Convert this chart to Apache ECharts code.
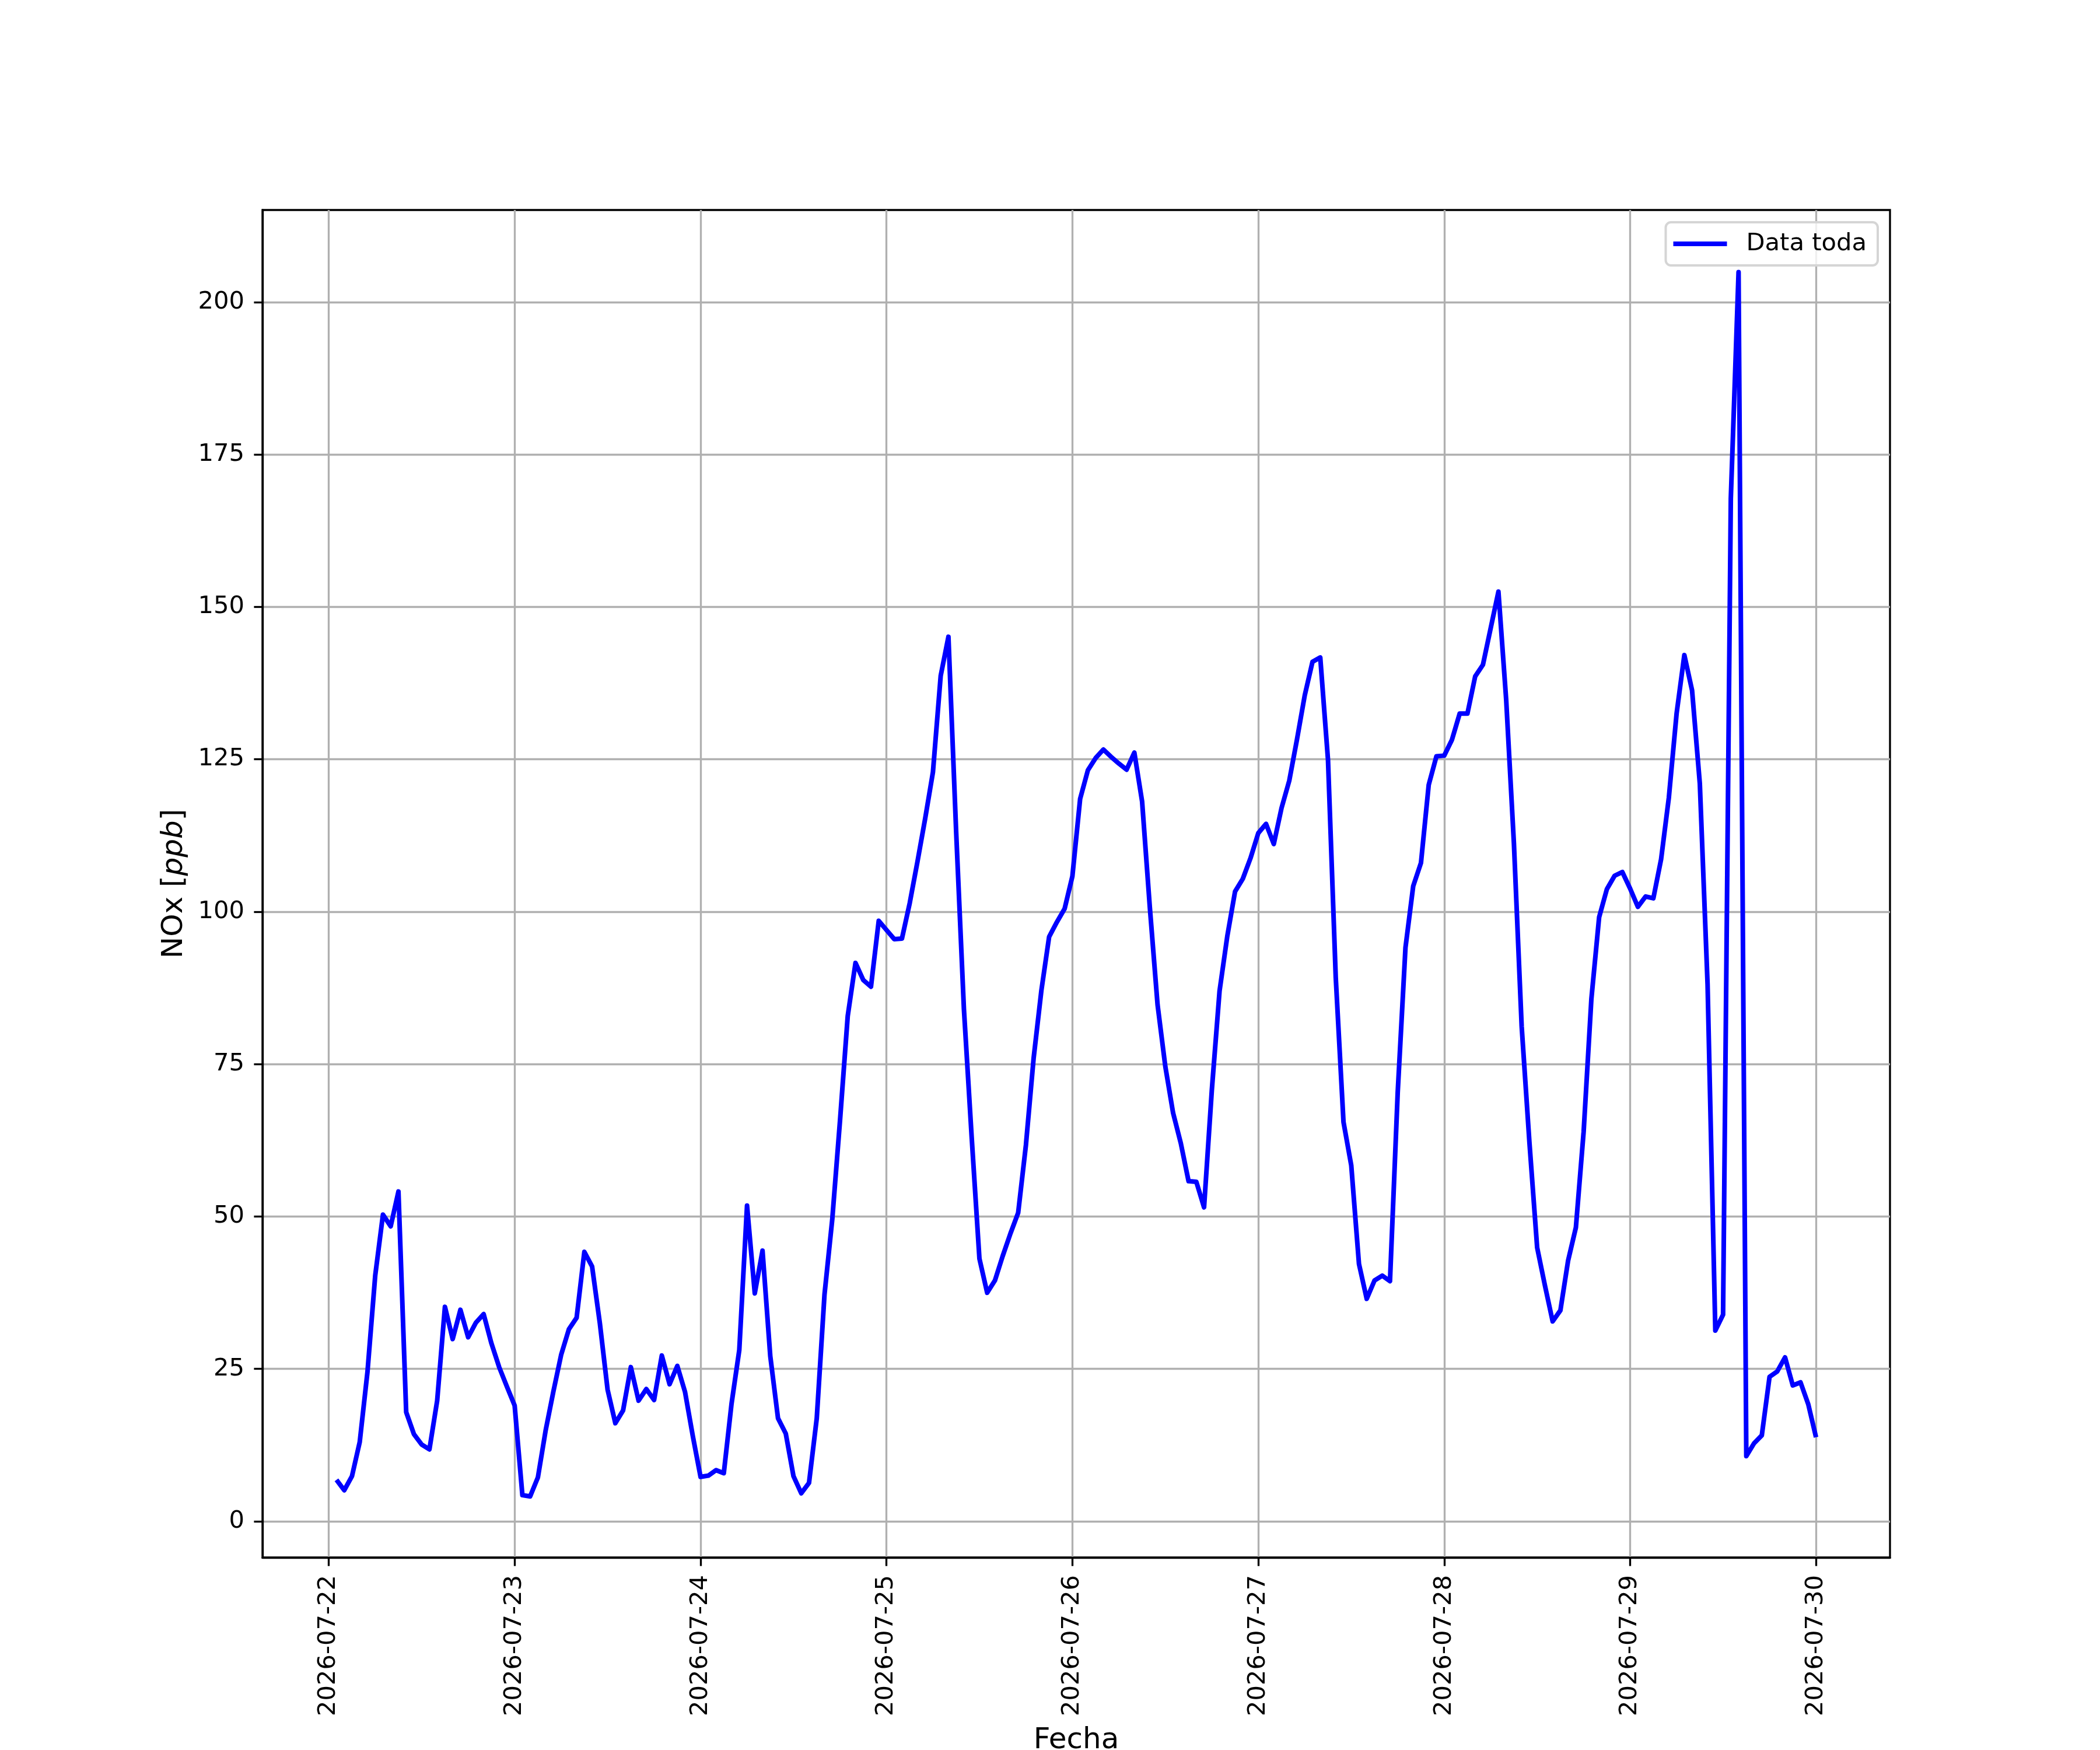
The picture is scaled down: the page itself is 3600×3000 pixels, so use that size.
<!DOCTYPE html>
<html>
<head>
<meta charset="utf-8">
<title>NOx</title>
<script src="https://cdn.jsdelivr.net/npm/echarts@6/dist/echarts.min.js"></script>
<style>
  html, body { margin: 0; padding: 0; background: #fff; }
  #chart { width: 3600px; height: 3000px; }
</style>
</head>
<body>
<div id="chart"></div>
<script>
// hourly NOx readings, one array per day (hour 0..23); the 22nd starts at 01:00
var day22 = [6.8, 5.1, 7.4, 13.0, 24.5, 40.3, 50.3, 48.4, 54.1, 17.9, 14.3, 12.6,
             11.8, 19.8, 35.2, 29.9, 34.7, 30.2, 32.6, 34.0, 29.2, 25.3, 22.1];
var day23 = [19.0, 4.3, 4.1, 7.2, 14.9, 21.3, 27.3, 31.5, 33.4, 44.2, 41.8, 32.5,
             21.6, 16.1, 18.2, 25.3, 19.8, 21.7, 19.9, 27.2, 22.5, 25.5, 21.2, 14.0];
var day24 = [7.3, 7.5, 8.4, 7.9, 19.3, 28.1, 51.8, 37.4, 44.4, 27.1, 16.9, 14.4,
             7.4, 4.6, 6.3, 16.9, 37.2, 49.5, 65.7, 82.9, 91.6, 88.8, 87.7, 98.5];
var day25 = [97.0, 95.5, 95.6, 101.4, 108.2, 115.3, 122.9, 138.7, 145.1, 113.0, 84.0, 63.0,
             43.1, 37.5, 39.5, 43.5, 47.2, 50.6, 61.7, 76.0, 87.1, 95.9, 98.3, 100.5];
var day26 = [105.8, 118.5, 123.2, 125.2, 126.6, 125.4, 124.3, 123.3, 126.1, 118.1, 100.7, 84.7,
             74.6, 67.0, 62.0, 55.8, 55.7, 51.5, 70.7, 87.0, 96.0, 103.3, 105.4, 108.8];
var day27 = [112.9, 114.4, 111.1, 117.0, 121.5, 128.3, 135.5, 141.0, 141.7, 124.9, 89.2, 65.5,
             58.4, 42.2, 36.5, 39.5, 40.3, 39.4, 70.4, 94.1, 104.2, 108.0, 120.8, 125.5];
var day28 = [125.6, 128.2, 132.5, 132.5, 138.6, 140.5, 146.5, 152.5, 134.8, 111.2, 81.2, 62.2,
             44.9, 38.7, 32.8, 34.6, 42.8, 48.2, 63.9, 85.7, 99.1, 103.7, 105.9, 106.5];
var day29 = [103.8, 100.8, 102.5, 102.2, 108.6, 118.7, 132.5, 142.1, 136.3, 121.0, 88.1, 31.3,
             33.9, 167.8, 204.9, 10.7, 12.8, 14.1, 23.7, 24.6, 26.9, 22.3, 22.8, 19.2];
var day30 = [13.8];

var days = [day22, day23, day24, day25, day26, day27, day28, day29, day30];
var firstHour = [1, 0, 0, 0, 0, 0, 0, 0, 0];

var dayLabels = ['2026-07-22', '2026-07-23', '2026-07-24', '2026-07-25', '2026-07-26',
                 '2026-07-27', '2026-07-28', '2026-07-29', '2026-07-30'];
var yTicks = [0, 25, 50, 75, 100, 125, 150, 175, 200];

// x is measured in hours from 2026-07-22 00:00
var points = [];
days.forEach(function(vals, d) {
    vals.forEach(function(v, i) {
        points.push([d * 24 + firstHour[d] + i, v]);
    });
});
var xTicks = dayLabels.map(function(s, d) { return d * 24; });

var font = 'DejaVu Sans';
var lw = 3.33;

var chart = echarts.init(document.getElementById('chart'), null, { renderer: 'canvas' });
chart.setOption({
    animation: false,
    backgroundColor: '#ffffff',
    grid: {
        left: 450,
        top: 360,
        width: 2790,
        height: 2310,
        show: true,
        borderColor: '#000000',
        borderWidth: lw,
        containLabel: false,
        outerBoundsMode: 'none'
    },
    legend: {
        right: 381,
        top: 381,
        icon: 'rect',
        itemWidth: 92,
        itemHeight: 8,
        padding: [16, 19, 16, 13],
        backgroundColor: 'rgba(255,255,255,0.8)',
        borderColor: '#d5d5d5',
        borderWidth: 4,
        borderRadius: 9,
        itemStyle: { color: '#0000ff', borderWidth: 0 },
        textStyle: {
            fontFamily: font,
            fontSize: 41.67,
            color: '#000000',
            padding: [0, 0, 0, 28]
        },
        data: ['Data toda']
    },
    xAxis: {
        type: 'value',
        min: -8.55,
        max: 201.55,
        name: 'Fecha',
        nameLocation: 'middle',
        nameGap: 289,
        nameMoveOverlap: false,
        nameTextStyle: { fontFamily: font, fontSize: 50, color: '#000000' },
        axisLine: { show: true, onZero: false, lineStyle: { color: '#000000', width: lw } },
        axisTick: {
            show: true,
            inside: false,
            length: 14.6,
            customValues: xTicks,
            lineStyle: { color: '#000000', width: lw }
        },
        axisLabel: {
            customValues: xTicks,
            rotate: 90,
            margin: 30,
            fontFamily: font,
            fontSize: 41.67,
            color: '#000000',
            formatter: function(v) { return dayLabels[Math.round(v / 24)]; }
        },
        splitLine: { show: true, lineStyle: { color: '#b0b0b0', width: lw } }
    },
    yAxis: {
        type: 'value',
        min: -5.93,
        max: 215.1,
        name: 'NOx [{i|ppb}]',
        nameLocation: 'middle',
        nameGap: 126,
        nameMoveOverlap: false,
        nameTextStyle: {
            fontFamily: font,
            fontSize: 50,
            color: '#000000',
            rich: { i: { fontFamily: font, fontSize: 50, fontStyle: 'italic', color: '#000000' } }
        },
        axisLine: { show: true, onZero: false, lineStyle: { color: '#000000', width: lw } },
        axisTick: {
            show: true,
            inside: false,
            length: 14.6,
            customValues: yTicks,
            lineStyle: { color: '#000000', width: lw }
        },
        axisLabel: {
            customValues: yTicks,
            margin: 31,
            fontFamily: font,
            fontSize: 41.67,
            color: '#000000'
        },
        splitLine: { show: true, lineStyle: { color: '#b0b0b0', width: lw } }
    },
    series: [
        {
            name: 'Data toda',
            type: 'line',
            data: points,
            symbol: 'none',
            lineStyle: { color: '#0000ff', width: 8, join: 'round' },
            itemStyle: { color: '#0000ff' }
        }
    ]
});
</script>
</body>
</html>
